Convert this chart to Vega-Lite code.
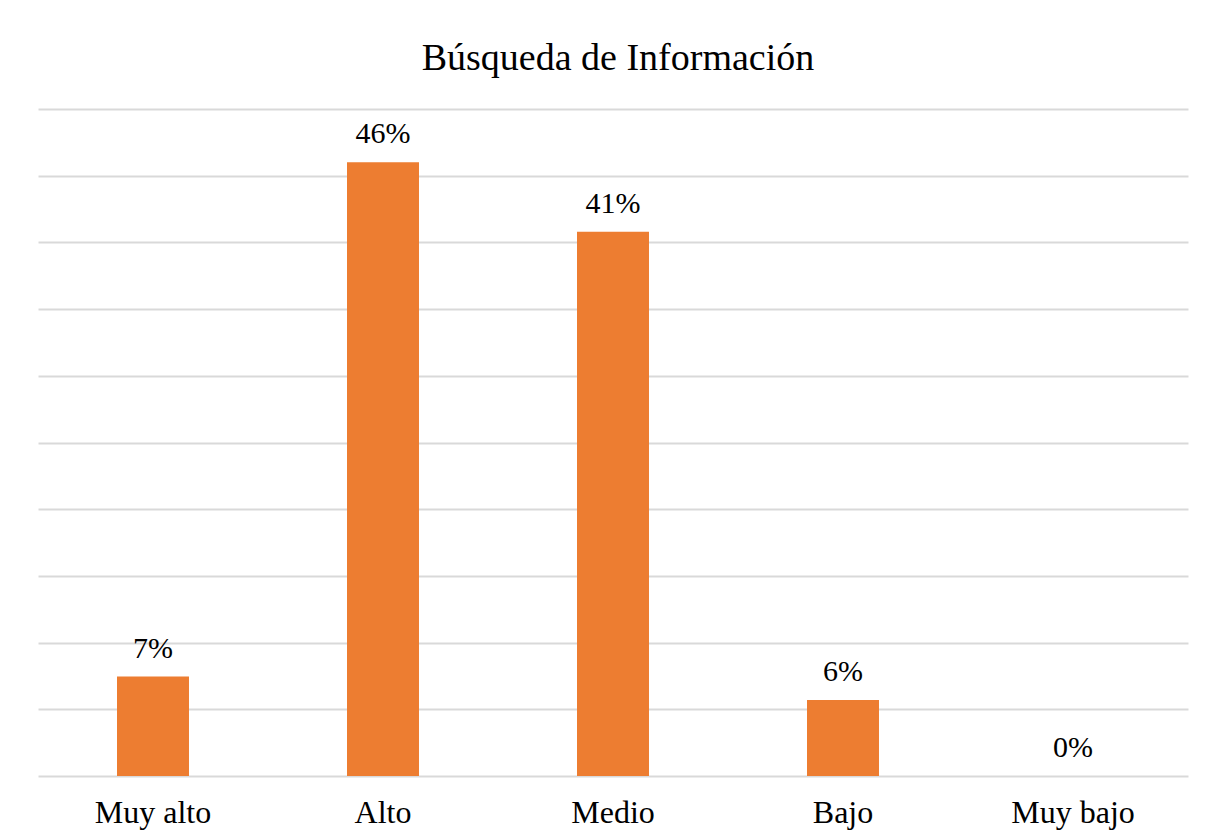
{
  "$schema": "https://vega.github.io/schema/vega-lite/v6.json",
  "width": 1150,
  "height": 667,
  "autosize": {"type": "none"},
  "padding": {"left": 38, "top": 109, "right": 23, "bottom": 64},
  "background": "white",
  "title": {
    "text": "Búsqueda de Información",
    "font": "'Liberation Serif', 'Times New Roman', serif",
    "fontSize": 38,
    "fontWeight": "normal",
    "color": "#000000",
    "anchor": "middle",
    "offset": 31,
    "dx": 5
  },
  "data": {
    "values": [
      {"nivel": "Muy alto", "pct": 7.45, "label": "7%"},
      {"nivel": "Alto", "pct": 46.0, "label": "46%"},
      {"nivel": "Medio", "pct": 40.8, "label": "41%"},
      {"nivel": "Bajo", "pct": 5.7, "label": "6%"},
      {"nivel": "Muy bajo", "pct": 0, "label": "0%"}
    ]
  },
  "encoding": {
    "x": {
      "field": "nivel",
      "type": "nominal",
      "sort": null,
      "scale": {"paddingInner": 0.687, "paddingOuter": 0.3435},
      "axis": {
        "title": null,
        "labelAngle": 0,
        "labelFont": "'Liberation Serif', 'Times New Roman', serif",
        "labelFontSize": 32,
        "labelColor": "#000000",
        "labelPadding": 21,
        "domain": false,
        "ticks": false
      }
    },
    "y": {
      "field": "pct",
      "type": "quantitative",
      "scale": {"domain": [0, 50]},
      "axis": {
        "title": null,
        "labels": false,
        "ticks": false,
        "domain": false,
        "tickCount": 11,
        "values": [0, 5, 10, 15, 20, 25, 30, 35, 40, 45, 50],
        "gridColor": "#d9d9d9",
        "gridWidth": 2
      }
    }
  },
  "layer": [
    {"mark": {"type": "bar", "color": "#ed7d31"}},
    {
      "mark": {"type": "text", "baseline": "bottom", "dy": -13, "font": "'Liberation Serif', 'Times New Roman', serif", "fontSize": 30, "color": "#000000"},
      "encoding": {"text": {"field": "label"}}
    }
  ],
  "config": {"view": {"stroke": null}}
}
